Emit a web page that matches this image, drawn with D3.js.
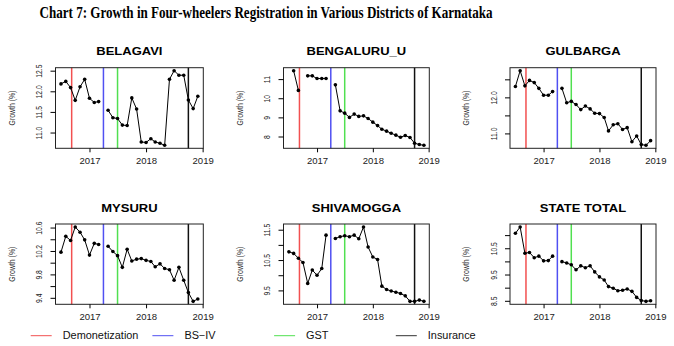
<!DOCTYPE html>
<html>
<head>
<meta charset="utf-8">
<script src="https://cdn.jsdelivr.net/npm/d3@7"></script>
<style>
  body { margin: 0; background: #fff; }
  svg { display: block; font-family: "Liberation Sans", Arial, sans-serif; }
</style>
</head>
<body>
<svg id="chart" width="674" height="346"></svg>
<script>
const chartTitle = "Chart 7: Growth in Four-wheelers Registration in Various Districts of Karnataka"

const months = ["2016-07", "2016-08", "2016-09", "2016-10", "2016-11", "2016-12",
    "2017-01", "2017-02", "2017-03", "2017-04", "2017-05", "2017-06",
    "2017-07", "2017-08", "2017-09", "2017-10", "2017-11", "2017-12",
    "2018-01", "2018-02", "2018-03", "2018-04", "2018-05", "2018-06",
    "2018-07", "2018-08", "2018-09", "2018-10", "2018-11", "2018-12"]

const districts = ["BELAGAVI", "BENGALURU_U", "GULBARGA", "MYSURU", "SHIVAMOGGA", "STATE TOTAL"]

const belagavi = [12.18, 12.24, 12.09, 11.78, 12.11, 12.29, 11.83, 11.73, 11.75, null,
    11.54, 11.36, 11.34, 11.18, 11.17, 11.84, 11.57, 10.77, 10.76, 10.85,
    10.77, 10.74, 10.69, 12.29, 12.50, 12.39, 12.39, 11.79, 11.58, 11.88]
const bengaluru = [null, 11.44, 10.41, null, 11.17, 11.17, 11.03, 11.03, 11.03, null,
    10.70, 9.34, 9.22, 9.00, 9.17, 9.05, 9.08, 8.94, 8.75, 8.57,
    8.38, 8.28, 8.17, 8.07, 7.96, 8.05, 7.95, 7.65, 7.58, 7.54]
const gulbarga = [12.30, 12.74, 12.32, 12.47, 12.41, 12.25, 12.06, 12.06, 12.16, null,
    12.25, 11.85, 11.89, 11.80, 11.66, 11.76, 11.68, 11.56, 11.55, 11.44,
    11.07, 11.24, 11.27, 11.11, 11.16, 10.77, 10.93, 10.69, 10.67, 10.80]
const mysuru = [10.18, 10.45, 10.38, 10.61, 10.52, 10.39, 10.13, 10.33, 10.31, null,
    10.28, 10.19, 10.12, 9.92, 10.23, 10.03, 10.06, 10.07, 10.04, 10.02,
    9.93, 9.98, 9.90, 9.88, 9.70, 9.92, 9.70, 9.49, 9.34, 9.38]
const shivamogga = [10.77, 10.72, 10.56, 10.42, 9.73, 10.17, 10.00, 10.22, 11.32, null,
    11.21, 11.27, 11.30, 11.27, 11.32, 11.20, 11.59, 10.93, 10.60, 10.52,
    9.64, 9.53, 9.48, 9.44, 9.40, 9.32, 9.14, 9.14, 9.18, 9.14]
const stateTotal = [11.07, 11.31, 10.31, 10.34, 10.14, 10.20, 10.02, 10.03, 10.20, null,
    9.99, 9.94, 9.87, 9.68, 9.83, 9.76, 9.83, 9.60, 9.41, 9.29,
    9.04, 8.98, 8.88, 8.90, 8.95, 8.86, 8.63, 8.51, 8.48, 8.50]

// y tick positions and the labels R kept (blank = tick without label)
const yTicks = [
    [11, 11.5, 12, 12.5],
    [8, 9, 10, 11],
    [11, 11.5, 12, 12.5],
    [9.4, 9.6, 9.8, 10.0, 10.2, 10.4, 10.6],
    [9.5, 10, 10.5, 11, 11.5],
    [8.5, 9, 9.5, 10, 10.5, 11]
]
const yLabels = [
    ["11.0", "11.5", "12.0", "12.5"],
    ["8", "9", "10", "11"],
    ["11.0", "", "12.0", ""],
    ["9.4", "", "9.8", "", "10.2", "", "10.6"],
    ["9.5", "", "10.5", "", "11.5"],
    ["8.5", "", "9.5", "", "10.5", ""]
]
const xTickYears = ["2017", "2018", "2019"]

const eventNames = ["Demonetization", "BS\u2212IV", "GST", "Insurance"]
const eventDates = ["2016-09-08", "2017-04-01", "2017-07-01", "2018-10-01"]
const eventColors = ["#f25050", "#5050f2", "#50e050", "#111111"]

const series = [belagavi, bengaluru, gulbarga, mysuru, shivamogga, stateTotal]

const svg = d3.select('#chart')

// stretch text to match the slightly squashed look of the original image
const stretch = (sel, k) => sel.each(function () {
    const w = this.getComputedTextLength()
    d3.select(this).attr('textLength', w * k).attr('lengthAdjust', 'spacingAndGlyphs')
})

svg.append('text')
    .attr('x', 266)
    .attr('y', 18)
    .attr('text-anchor', 'middle')
    .attr('font-family', '"Liberation Serif", "Times New Roman", serif')
    .attr('font-weight', 'bold')
    .attr('font-size', 16)
    .attr('textLength', 453)
    .attr('lengthAdjust', 'spacingAndGlyphs')
    .text(chartTitle)

const parseMonth = d3.timeParse('%Y-%m')
const parseDay = d3.timeParse('%Y-%m-%d')
const dates = months.map(parseMonth)
const events = eventDates.map(parseDay)
const yearTicks = xTickYears.map(d => d3.timeParse('%Y')(d))

const [t0, t1] = d3.extent(dates)
const tPad = (t1 - t0) * 0.04
const xDomain = [new Date(+t0 - tPad), new Date(+t1 + tPad)]

const cols = [[55.5, 203.3], [283.5, 429.3], [510, 656]]
const rows = [[67.7, 148.3], [224, 304.3]]

series.forEach((values, i) => {
    const [left, right] = cols[i % 3]
    const [top, bottom] = rows[Math.floor(i / 3)]

    const x = d3.scaleTime().domain(xDomain).range([left, right])
    const [lo, hi] = d3.extent(values.filter(v => v != null))
    const yPad = (hi - lo) * 0.04
    const y = d3.scaleLinear().domain([lo - yPad, hi + yPad]).range([bottom, top])

    const g = svg.append('g')

    g.selectAll('line.event')
        .data(events)
        .join('line')
        .attr('class', 'event')
        .attr('x1', d => x(d)).attr('x2', d => x(d))
        .attr('y1', top).attr('y2', bottom)
        .attr('stroke', (d, j) => eventColors[j])
        .attr('stroke-width', 1.5)

    const pts = dates.map((t, j) => ({ t, v: values[j] }))
    const line = d3.line()
        .defined(d => d.v != null)
        .x(d => x(d.t))
        .y(d => y(d.v))

    g.append('path')
        .datum(pts)
        .attr('fill', 'none')
        .attr('stroke', '#000')
        .attr('stroke-width', 1)
        .attr('d', line)

    g.selectAll('circle')
        .data(pts.filter(d => d.v != null))
        .join('circle')
        .attr('cx', d => x(d.t))
        .attr('cy', d => y(d.v))
        .attr('r', 1.8)
        .attr('fill', '#000')

    g.append('rect')
        .attr('x', left).attr('y', top)
        .attr('width', right - left).attr('height', bottom - top)
        .attr('fill', 'none')
        .attr('stroke', '#222')
        .attr('stroke-width', 1)

    const xAxis = g.append('g')
        .attr('transform', `translate(0,${bottom})`)
        .call(d3.axisBottom(x).tickValues(yearTicks).tickFormat(d3.timeFormat('%Y')).tickSize(4).tickPadding(5))
    xAxis.select('.domain').remove()
    xAxis.selectAll('text').attr('font-size', 9).attr('fill', '#222').call(stretch, 1.06)

    const yAxis = g.append('g')
        .attr('transform', `translate(${left},0)`)
        .call(d3.axisLeft(y).tickValues(yTicks[i]).tickFormat((d, j) => yLabels[i][j]).tickSize(5))
    yAxis.select('.domain').remove()
    yAxis.selectAll('text')
        .attr('x', null).attr('dy', null)
        .attr('text-anchor', 'middle')
        .attr('transform', 'translate(-13.5,0) rotate(-90)')
        .attr('font-size', 8.5)
        .attr('fill', '#222')
        .call(stretch, 0.8)

    g.append('text')
        .attr('transform', `translate(${left - 41},${(top + bottom) / 2}) rotate(-90)`)
        .attr('text-anchor', 'middle')
        .attr('font-size', 8.5)
        .attr('fill', '#333')
        .attr('textLength', 35)
        .attr('lengthAdjust', 'spacingAndGlyphs')
        .text('Growth (%)')

    g.append('text')
        .attr('x', (left + right) / 2)
        .attr('y', top - 12.5)
        .attr('text-anchor', 'middle')
        .attr('font-size', 10)
        .attr('font-weight', 'bold')
        .text(districts[i])
        .call(stretch, 1.3)
})

// legend along the bottom
const legend = svg.append('g').attr('transform', 'translate(30.7,335.7)')
const item = legend.selectAll('g')
    .data(eventNames)
    .join('g')
    .attr('transform', (d, j) => `translate(${j * 121.7},0)`)
item.append('line')
    .attr('x1', 0).attr('x2', 21)
    .attr('stroke', (d, j) => j === 3 ? '#333' : eventColors[j])
    .attr('stroke-width', 1)
item.append('text')
    .attr('x', 32)
    .attr('dy', '0.35em')
    .attr('font-size', 10)
    .attr('fill', '#111')
    .text(d => d)
    .call(stretch, 1.09)
</script>
</body>
</html>
